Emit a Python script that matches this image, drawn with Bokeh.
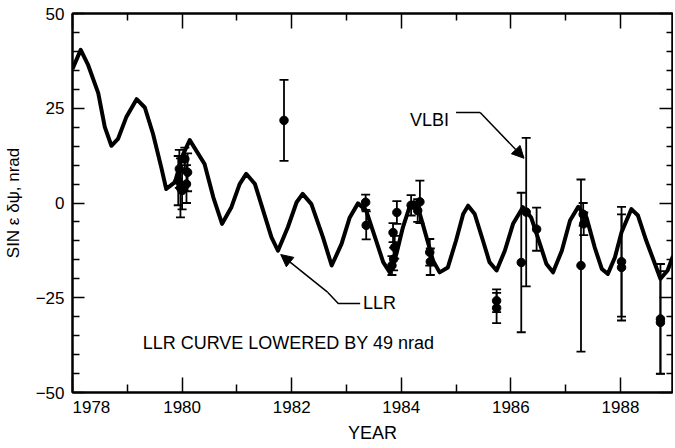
from bokeh.plotting import figure
from bokeh.models import (Range1d, FixedTicker, LinearAxis, Label, Whisker, TeeHead,
                          ColumnDataSource, Arrow, NormalHead)
from bokeh.embed import file_html
from bokeh.resources import INLINE

# ---- data ----
curve_year = [1978.0, 1978.15, 1978.28, 1978.47, 1978.59, 1978.71, 1978.83, 1978.98, 1979.17, 1979.32,
              1979.47, 1979.62, 1979.71, 1979.87, 1980.02, 1980.14, 1980.41, 1980.57, 1980.73, 1980.9,
              1981.05, 1981.17, 1981.33, 1981.48, 1981.63, 1981.75, 1981.93, 1982.09, 1982.2, 1982.36,
              1982.57, 1982.73, 1982.91, 1983.06, 1983.21, 1983.36, 1983.52, 1983.67, 1983.79, 1983.91,
              1984.03, 1984.15, 1984.23, 1984.34, 1984.46, 1984.58, 1984.7, 1984.85, 1985.0, 1985.13,
              1985.22, 1985.34, 1985.49, 1985.61, 1985.74, 1985.89, 1986.04, 1986.22, 1986.37, 1986.53,
              1986.65, 1986.77, 1986.93, 1987.08, 1987.23, 1987.38, 1987.53, 1987.66, 1987.77, 1987.9,
              1988.02, 1988.2, 1988.32, 1988.47, 1988.63, 1988.73, 1988.86, 1988.96]
curve_value = [35.4, 40.4, 36.6, 29.0, 20.0, 15.1, 16.9, 22.6, 27.4, 25.2,
               18.2, 9.4, 3.7, 5.5, 12.9, 16.6, 10.3, 1.5, -5.5, -1.1,
               5.0, 7.7, 5.0, -2.0, -9.0, -12.6, -6.4, 0.2, 2.4, -0.3,
               -9.0, -16.5, -10.8, -3.8, -0.1, -2.0, -9.0, -15.6, -18.3, -13.5,
               -6.4, -1.1, 0.2, -2.9, -9.0, -15.2, -18.3, -17.0, -9.9, -2.9,
               -0.7, -2.9, -9.9, -15.6, -17.8, -12.6, -5.5, -1.1, -3.8, -10.8,
               -16.1, -18.3, -12.6, -4.6, -1.0, -3.8, -11.7, -17.4, -18.7, -14.3,
               -7.7, -1.6, -3.3, -9.9, -16.1, -20.0, -17.8, -14.0]

pt_year = [1979.93, 1979.95, 1980.0, 1980.05, 1980.1, 1980.08, 1979.97,
           1981.86,
           1983.35, 1983.36, 1983.92, 1983.85, 1983.88, 1983.86, 1983.83,
           1984.18, 1984.34, 1984.3, 1984.52, 1984.53,
           1985.74, 1985.74,
           1986.19, 1986.28, 1986.47,
           1987.28, 1987.32, 1987.33,
           1988.02, 1988.02,
           1988.73, 1988.73]
pt_value = [5.9, 9.0, 3.3, 11.6, 8.1, 5.0, 4.0,
            21.8,
            0.2, -5.9, -2.5, -7.8, -11.7, -14.8, -16.5,
            -0.6, 0.3, -2.0, -13.0, -15.5,
            -25.8, -27.7,
            -15.7, -2.4, -6.9,
            -16.5, -3.0, -5.5,
            -15.5, -17.0,
            -30.6, -31.5]
pt_err = [6.5, 5.0, 5.0, 3.0, 5.0, 5.0, 7.8,
          10.7,
          2.0, 3.7, 3.0, 2.5, 3.0, 3.0, 2.5,
          2.7, 5.6, 3.0, 3.5, 3.5,
          3.0, 4.0,
          18.4, 19.6, 5.7,
          22.7, 3.0, 3.0,
          14.5, 14.0,
          14.5, 13.5]

x_major = [1978, 1980, 1982, 1984, 1986, 1988]
x_minor = [1979, 1981, 1983, 1985, 1987]
y_major = [-50, -25, 0, 25, 50]
y_minor = [v for v in range(-50, 51, 5) if v % 25 != 0]

FONT = "Liberation Sans"
NBSP = "\u00a0"

p = figure(frame_width=600, frame_height=379, output_backend="svg", toolbar_location=None,
           x_range=Range1d(1978.0, 1988.95), y_range=Range1d(-50, 50),
           x_axis_location=None, y_axis_location=None,
           min_border_left=66, min_border_right=1, min_border_top=13, min_border_bottom=40)
p.grid.visible = False
p.outline_line_color = "black"
p.outline_line_width = 2
p.background_fill_color = "white"
p.border_fill_color = "white"


def style_axis(ax, major_in, minor_in, labels=True):
    ax.axis_line_width = 2
    ax.axis_line_color = "black"
    ax.major_tick_in = major_in
    ax.major_tick_out = 0
    ax.minor_tick_in = minor_in
    ax.minor_tick_out = 0
    ax.major_tick_line_width = 1.5
    ax.minor_tick_line_width = 1.5
    ax.major_tick_line_color = "black"
    ax.minor_tick_line_color = "black"
    if labels:
        ax.major_label_text_font = FONT
        ax.major_label_text_font_size = "17px"
        ax.major_label_text_color = "black"
    else:
        ax.major_label_text_color = None
        ax.major_label_text_font_size = "0px"
        ax.major_label_standoff = 0


xt = FixedTicker(ticks=x_major, minor_ticks=x_minor)
yt = FixedTicker(ticks=y_major, minor_ticks=y_minor)

xb = LinearAxis(ticker=xt)
style_axis(xb, 15, 8)
xb.major_label_standoff = 5
# the first label sits a little right of the frame corner in the reference
xb.major_label_overrides = {1978: NBSP * 8 + "1978"}
xb.axis_label = "YEAR"
xb.axis_label_text_font = FONT
xb.axis_label_text_font_size = "18px"
xb.axis_label_text_font_style = "normal"
xb.axis_label_text_color = "black"
xb.axis_label_standoff = 3
p.add_layout(xb, "below")

xtop = LinearAxis(ticker=xt)
style_axis(xtop, 15, 7, labels=False)
p.add_layout(xtop, "above")

yl = LinearAxis(ticker=yt)
style_axis(yl, 12, 7)
yl.major_label_standoff = 8
yl.major_label_overrides = {-50: "\u221250", -25: "\u221225"}
yl.axis_label = "SIN \u03b5 \u03b4\u03c8, nrad"
yl.axis_label_text_font = FONT
yl.axis_label_text_font_size = "17px"
yl.axis_label_text_font_style = "normal"
yl.axis_label_text_color = "black"
yl.axis_label_standoff = 10
p.add_layout(yl, "left")

yr = LinearAxis(ticker=yt)
style_axis(yr, 13, 6, labels=False)
p.add_layout(yr, "right")

# LLR curve
p.line(curve_year, curve_value, line_color="black", line_width=4, line_join="round")

# data points with error bars
src = ColumnDataSource(dict(x=pt_year, y=pt_value,
                            lo=[v - e for v, e in zip(pt_value, pt_err)],
                            hi=[v + e for v, e in zip(pt_value, pt_err)]))
wh = Whisker(source=src, base="x", upper="hi", lower="lo", line_color="black", line_width=1.8,
             upper_head=TeeHead(size=9, line_width=1.8, line_color="black"),
             lower_head=TeeHead(size=9, line_width=1.8, line_color="black"))
p.add_layout(wh)
p.scatter("x", "y", source=src, size=8.5, marker="circle", fill_color="black", line_color="black")

# LLR arrow
p.line([1982.66, 1982.85, 1983.25], [-23.6, -26.5, -26.5], line_color="black", line_width=1.5)
p.add_layout(Arrow(x_start=1982.66, y_start=-23.6, x_end=1981.8, y_end=-13.6,
                   line_color="black", line_width=1.5,
                   end=NormalHead(size=12, fill_color="black", line_color="black")))
p.add_layout(Label(x=1983.30, y=-26.5, text="LLR", text_font=FONT, text_font_size="18px",
                   text_color="black", text_baseline="middle", text_align="left"))

# VLBI arrow
p.line([1985.0, 1985.44], [23.9, 23.9], line_color="black", line_width=1.5)
p.add_layout(Arrow(x_start=1985.44, y_start=23.9, x_end=1986.24, y_end=11.8,
                   line_color="black", line_width=1.5,
                   end=NormalHead(size=12, fill_color="black", line_color="black")))
p.add_layout(Label(x=1984.16, y=22.0, text="VLBI", text_font=FONT, text_font_size="18px",
                   text_color="black", text_baseline="middle", text_align="left"))

p.add_layout(Label(x=1979.28, y=-37.0, text="LLR CURVE LOWERED BY 49 nrad", text_font=FONT,
                   text_color="black", text_font_size="18px", text_baseline="middle",
                   text_align="left"))

open("out.html", "w").write(file_html(p, INLINE))
